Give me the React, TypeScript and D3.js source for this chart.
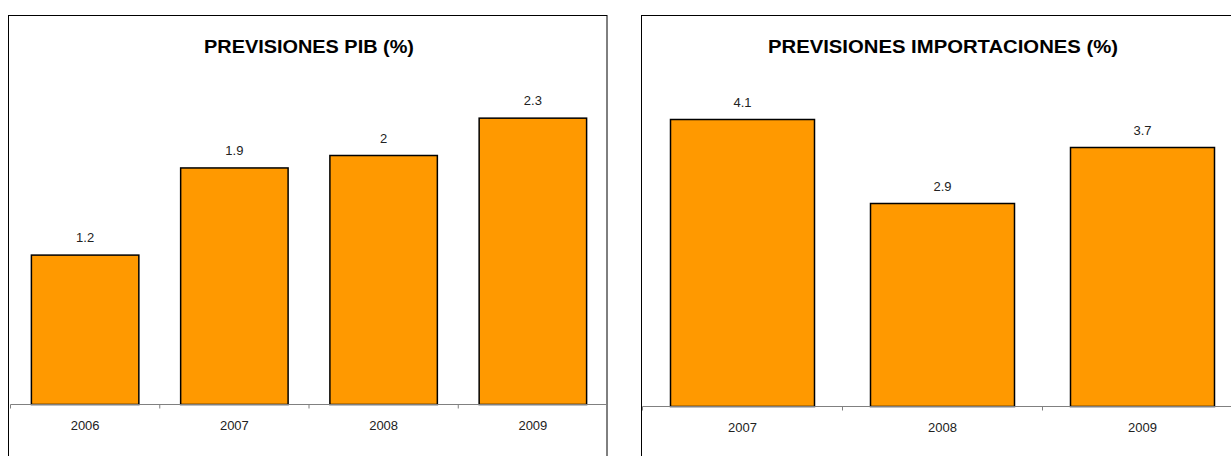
import React from "react";
import * as d3 from "d3";

const pibYears = ["2006", "2007", "2008", "2009"];
const pibValues = [1.2, 1.9, 2.0, 2.3];
const impYears = ["2007", "2008", "2009"];
const impValues = [4.1, 2.9, 3.7];
const pibTitle = "PREVISIONES PIB (%)";
const impTitle = "PREVISIONES IMPORTACIONES (%)";

type PanelProps = {
  title: string;
  cats: string[];
  vals: number[];
  box: { x: number; y: number; w: number; h: number };
  plot: { x0: number; x1: number; y0: number; y1: number };
  yMax: number;
  titleX: number;
  titleLen: number;
};

const FONT = "'Liberation Sans', Arial, sans-serif";

function Panel({ title, cats, vals, box, plot, yMax, titleX, titleLen }: PanelProps) {
  const x = d3.scaleBand<string>().domain(cats).range([plot.x0, plot.x1]).paddingInner(0.28).paddingOuter(0.14);
  const y = d3.scaleLinear().domain([0, yMax]).range([plot.y1, plot.y0]);
  const step = (plot.x1 - plot.x0) / cats.length;
  const ticks = d3.range(cats.length + 1).map((i) => plot.x0 + i * step);
  return (
    <g>
      <rect x={box.x} y={box.y} width={box.w} height={box.h} fill="#fff" stroke="#000" strokeWidth={1} />
      <text
        x={titleX}
        y={53}
        textAnchor="middle"
        fontFamily={FONT}
        fontWeight="bold"
        fontSize={19}
        textLength={titleLen}
        lengthAdjust="spacingAndGlyphs"
        fill="#000"
      >
        {title}
      </text>
      {vals.map((v, i) => (
        <g key={cats[i]}>
          <rect
            x={x(cats[i])!}
            y={y(v)}
            width={x.bandwidth()}
            height={y(0) - y(v)}
            fill="#FF9900"
            stroke="#000"
            strokeWidth={1.5}
          />
          <text
            x={x(cats[i])! + x.bandwidth() / 2}
            y={y(v) - 13}
            textAnchor="middle"
            fontFamily={FONT}
            fontSize={13}
            fill="#222"
          >
            {String(v)}
          </text>
          <text
            x={x(cats[i])! + x.bandwidth() / 2}
            y={plot.y1 + 25.5}
            textAnchor="middle"
            fontFamily={FONT}
            fontSize={13}
            fill="#222"
          >
            {cats[i]}
          </text>
        </g>
      ))}
      <line x1={plot.x0} x2={plot.x1} y1={plot.y1} y2={plot.y1} stroke="#808080" strokeWidth={1.2} />
      {ticks.map((t, i) => (
        <line key={i} x1={t} x2={t} y1={plot.y1} y2={plot.y1 + 4} stroke="#808080" strokeWidth={1} />
      ))}
    </g>
  );
}

export default function App() {
  return (
    <div style={{ position: "absolute", left: 0, top: 0 }}>
      <svg width={1231} height={456} style={{ display: "block" }}>
        <rect width={1231} height={456} fill="#fff" />
        <Panel
          title={pibTitle}
          cats={pibYears}
          vals={pibValues}
          box={{ x: 8.5, y: 15.5, w: 598.5, h: 460 }}
          plot={{ x0: 10.5, x1: 607.5, y0: 93.25, y1: 404.5 }}
          yMax={2.5}
          titleX={309}
          titleLen={210}
        />
        <Panel
          title={impTitle}
          cats={impYears}
          vals={impValues}
          box={{ x: 641.5, y: 15.5, w: 620, h: 460 }}
          plot={{ x0: 642.5, x1: 1242.5, y0: 91.5, y1: 406.5 }}
          yMax={4.5}
          titleX={943}
          titleLen={350}
        />
      </svg>
    </div>
  );
}
